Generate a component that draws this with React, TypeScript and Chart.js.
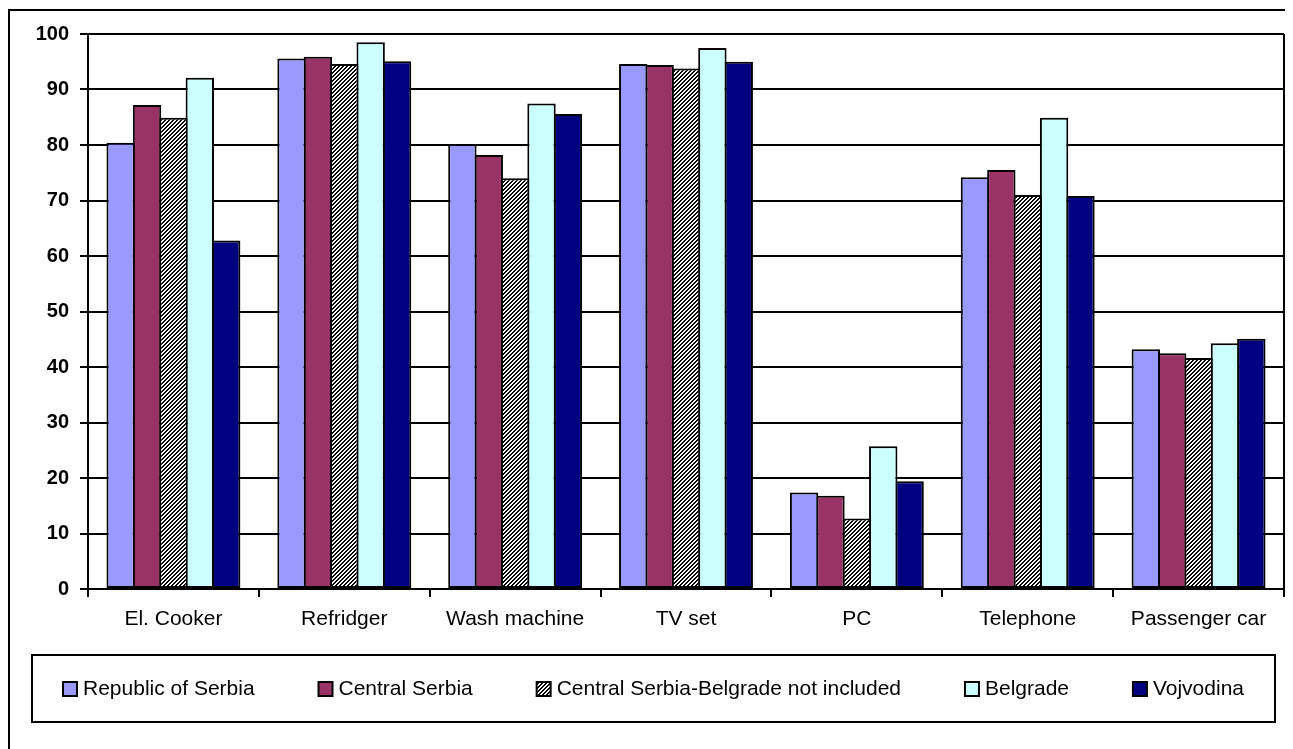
import React, { useEffect, useRef } from "react";
import { Chart, registerables } from "chart.js";

Chart.register(...registerables);

const categories = ["El. Cooker", "Refridger", "Wash machine", "TV set", "PC", "Telephone", "Passenger car"];
const seriesNames = [
  "Republic of Serbia",
  "Central Serbia",
  "Central Serbia-Belgrade not included",
  "Belgrade",
  "Vojvodina",
];
const republicOfSerbia = [80.4, 95.6, 80.2, 94.6, 17.4, 74.2, 43.2];
const centralSerbia = [87.2, 95.9, 78.2, 94.4, 16.8, 75.5, 42.5];
const centralSerbiaNoBelgrade = [84.9, 94.6, 74.0, 93.8, 12.7, 71.0, 41.6];
const belgrade = [92.1, 98.5, 87.5, 97.5, 25.7, 84.9, 44.3];
const vojvodina = [62.8, 95.1, 85.6, 95.0, 19.4, 70.8, 45.1];
const yTicks = { min: 0, max: 100, step: 10 };

const FONT = "'Liberation Sans', Arial, sans-serif";

function makeHatch(): CanvasPattern | string {
  const c = document.createElement("canvas");
  c.width = 4;
  c.height = 4;
  const ctx = c.getContext("2d");
  if (!ctx) return "#888";
  const img = ctx.createImageData(4, 4);
  for (let y = 0; y < 4; y++) {
    for (let x = 0; x < 4; x++) {
      const i = (y * 4 + x) * 4;
      const black = (x + y) % 4 < 2;
      const v = black ? 0 : 255;
      img.data[i] = v;
      img.data[i + 1] = v;
      img.data[i + 2] = v;
      img.data[i + 3] = 255;
    }
  }
  ctx.putImageData(img, 0, 0);
  const p = ctx.createPattern(c, "repeat");
  return p || "#888";
}

export default function App() {
  const ref = useRef<HTMLCanvasElement | null>(null);

  useEffect(() => {
    document.documentElement.style.overflow = "hidden";
    const canvas = ref.current;
    if (!canvas) return;
    const hatch = makeHatch();
    const fills: any[] = ["#9999FF", "#993366", hatch, "#CCFFFF", "#000080"];
    const values = [republicOfSerbia, centralSerbia, centralSerbiaNoBelgrade, belgrade, vojvodina];

    const framePlugin = {
      id: "frame",
      beforeDraw(chart: any) {
        const ctx = chart.ctx;
        ctx.save();
        ctx.fillStyle = "#fff";
        ctx.fillRect(0, 0, chart.width, chart.height);
        ctx.strokeStyle = "#000";
        ctx.lineWidth = 2;
        ctx.beginPath();
        ctx.moveTo(1, chart.height + 10);
        ctx.lineTo(1, 2);
        ctx.lineTo(chart.width + 10, 2);
        ctx.stroke();
        ctx.restore();
      },
      afterDraw(chart: any) {
        const ctx = chart.ctx;
        const a = chart.chartArea;
        ctx.save();
        ctx.strokeStyle = "#000";
        ctx.lineWidth = 2;
        ctx.beginPath();
        ctx.moveTo(a.right, a.top);
        ctx.lineTo(a.right, a.bottom);
        ctx.stroke();

        // legend
        const lx = 24, ly = 647, lw = 1243, lh = 67;
        ctx.strokeRect(lx, ly, lw, lh);
        ctx.font = `21px ${FONT}`;
        ctx.textBaseline = "middle";
        ctx.fillStyle = "#000";
        const box = 14;
        const gapBT = 6;
        const widths = seriesNames.map((n) => box + gapBT + ctx.measureText(n).width);
        const start = lx + 31;
        const end = lx + lw - 31;
        const total = widths.reduce((s, w) => s + w, 0);
        const gap = (end - start - total) / (widths.length - 1);
        let x = start;
        const cy = ly + lh / 2 + 0.5;
        seriesNames.forEach((n, i) => {
          ctx.fillStyle = fills[i];
          ctx.fillRect(x, cy - box / 2, box, box);
          ctx.strokeStyle = "#000";
          ctx.lineWidth = 2;
          ctx.strokeRect(x, cy - box / 2, box, box);
          ctx.fillStyle = "#000";
          ctx.fillText(n, x + box + gapBT, cy);
          x += widths[i] + gap;
        });
        ctx.restore();
      },
    };

    const chart = new Chart(canvas, {
      type: "bar",
      data: {
        labels: categories,
        datasets: values.map((v, i) => ({
          label: seriesNames[i],
          data: v,
          backgroundColor: fills[i],
          borderColor: "#000",
          borderWidth: 2,
          borderSkipped: false,
          categoryPercentage: 0.772,
          barPercentage: 1.076,
        })),
      },
      options: {
        animation: false,
        responsive: false,
        maintainAspectRatio: false,
        layout: { padding: { left: 0, right: 9, top: 26, bottom: 100 } },
        plugins: {
          legend: { display: false },
          tooltip: { enabled: false },
          title: { display: false },
        },
        scales: {
          x: {
            afterFit(scale: any) {
              scale.height = 60;
            },
            grid: {
              drawOnChartArea: false,
              drawTicks: true,
              tickLength: 8,
              offset: true,
              color: "#000",
              lineWidth: 2,
            },
            border: { display: true, color: "#000", width: 2 },
            ticks: {
              color: "#000",
              font: { family: FONT, size: 21 },
              padding: 10,
              maxRotation: 0,
              autoSkip: false,
            },
          },
          y: {
            min: yTicks.min,
            max: yTicks.max,
            afterFit(scale: any) {
              scale.width = 80;
            },
            grid: {
              color: "#000",
              lineWidth: 2,
              drawTicks: true,
              tickLength: 8,
            },
            border: { display: true, color: "#000", width: 2 },
            ticks: {
              stepSize: yTicks.step,
              color: "#000",
              font: { family: FONT, size: 20, weight: "bold" },
              padding: 11,
            },
          },
        },
      },
      plugins: [framePlugin],
    });
    return () => chart.destroy();
  }, []);

  return (
    <div style={{ width: 1285, height: 741 }}>
      <canvas ref={ref} width={1285} height={741} style={{ display: "block", width: 1285, height: 741 }} />
    </div>
  );
}
